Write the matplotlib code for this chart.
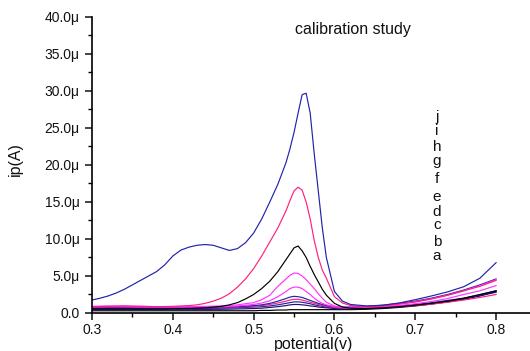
import matplotlib
matplotlib.use("Agg")
import matplotlib.pyplot as plt
from matplotlib.ticker import MultipleLocator, FuncFormatter

plt.rcParams['font.family'] = ['Liberation Sans', 'DejaVu Sans']

# Potential axis (V), shared by all voltammograms
potential = [0.30, 0.31, 0.32, 0.33, 0.34, 0.35, 0.36, 0.37, 0.38, 0.39,
             0.40, 0.41, 0.42, 0.43, 0.44, 0.45, 0.46, 0.47, 0.48, 0.49, 0.50,
             0.51, 0.52, 0.53, 0.54,
             0.545, 0.55, 0.555, 0.56, 0.565, 0.57, 0.575, 0.58, 0.585, 0.59,
             0.60, 0.61, 0.62,
             0.64, 0.66, 0.68, 0.70, 0.72, 0.74, 0.76, 0.78, 0.80]

# Current (µA) for each concentration a..j
curve_a = [0.3] * 21 + [0.35, 0.35, 0.4, 0.4] + [0.45] * 10 + [0.45, 0.45, 0.45] + \
          [0.5, 0.6, 0.75, 0.95, 1.2, 1.5, 1.85, 2.3, 2.9]
curve_b = [0.45] * 15 + [0.5, 0.5, 0.52, 0.55, 0.57, 0.6] + [0.65, 0.75, 0.85, 1.0] + \
          [1.1, 1.15, 1.15, 1.1, 1.05, 0.95, 0.9, 0.8, 0.75, 0.7] + [0.6, 0.55, 0.55] + \
          [0.6, 0.7, 0.85, 1.05, 1.3, 1.6, 1.95, 2.35, 2.8]
curve_c = [0.6] * 16 + [0.65, 0.67, 0.7, 0.75, 0.8] + [0.85, 0.95, 1.1, 1.3] + \
          [1.4, 1.5, 1.5, 1.45, 1.35, 1.25, 1.1, 1.0, 0.9, 0.8] + [0.7, 0.65, 0.65] + \
          [0.7, 0.8, 0.95, 1.15, 1.4, 1.7, 2.0, 2.45, 3.0]
curve_d = [0.75] * 10 + [0.72, 0.7, 0.7, 0.7, 0.7, 0.72, 0.75, 0.77, 0.8, 0.85, 0.9] + \
          [1.0, 1.15, 1.35, 1.6] + \
          [1.75, 1.85, 1.85, 1.75, 1.6, 1.45, 1.3, 1.15, 1.0, 0.9] + [0.75, 0.7, 0.65] + \
          [0.65, 0.75, 0.85, 1.0, 1.2, 1.45, 1.75, 2.1, 2.5]
curve_e = [0.7] * 14 + [0.75, 0.77, 0.8, 0.82, 0.85, 0.92, 1.0] + [1.1, 1.3, 1.6, 1.95] + \
          [2.15, 2.25, 2.2, 2.1, 1.9, 1.7, 1.5, 1.3, 1.15, 1.0] + [0.85, 0.8, 0.8] + \
          [0.9, 1.05, 1.3, 1.6, 2.0, 2.5, 3.1, 3.8, 4.6]
curve_f = [0.8, 0.82, 0.85, 0.85, 0.85, 0.82, 0.8, 0.8, 0.8, 0.8, 0.8, 0.8, 0.8, 0.8,
           0.8, 0.82, 0.85, 0.9, 0.95, 1.05, 1.15] + [1.35, 1.65, 2.2, 2.9] + \
          [3.3, 3.5, 3.5, 3.3, 2.9, 2.5, 2.0, 1.6, 1.3, 1.1] + [0.85, 0.75, 0.7] + \
          [0.75, 0.85, 1.0, 1.25, 1.55, 1.95, 2.5, 3.0, 3.7]
curve_g = [0.9, 0.92, 0.95, 0.95, 0.95, 0.92, 0.9, 0.88, 0.85, 0.85, 0.85, 0.85, 0.85,
           0.87, 0.9, 0.92, 0.95, 1.0, 1.1, 1.25, 1.4] + [1.8, 2.4, 3.6, 4.6] + \
          [5.1, 5.4, 5.35, 5.0, 4.5, 3.9, 3.3, 2.6, 2.0, 1.45] + [0.95, 0.8, 0.75] + \
          [0.8, 0.95, 1.2, 1.5, 1.9, 2.4, 3.0, 3.7, 4.5]
curve_h = [0.55] * 10 + [0.6, 0.6, 0.62, 0.65, 0.7, 0.8, 0.9, 1.1, 1.4, 1.9, 2.5] + \
          [3.3, 4.3, 5.6, 7.2] + \
          [8.0, 8.8, 9.05, 8.4, 7.5, 6.3, 5.2, 4.2, 3.2, 2.4] + [1.3, 0.8, 0.65] + \
          [0.6, 0.7, 0.85, 1.05, 1.3, 1.6, 2.0, 2.5, 3.0]
curve_i = [0.85, 0.88, 0.9, 0.92, 0.95, 0.92, 0.9, 0.88, 0.85, 0.87, 0.9, 0.95, 1.0,
           1.1, 1.3, 1.6, 2.0, 2.6, 3.5, 4.6, 6.0] + [7.7, 9.6, 11.5, 13.8] + \
          [15.2, 16.5, 17.0, 16.6, 15.0, 12.7, 9.8, 7.5, 5.8, 4.7] + [2.2, 1.35, 1.0] + \
          [0.85, 0.95, 1.2, 1.5, 1.9, 2.4, 3.0, 3.6, 4.4]
curve_j = [1.75, 2.0, 2.3, 2.7, 3.2, 3.8, 4.4, 5.0, 5.6, 6.5, 7.7, 8.5, 8.9, 9.15,
           9.25, 9.15, 8.8, 8.45, 8.7, 9.5, 10.8] + [12.7, 15.0, 17.4, 20.3] + \
          [22.2, 24.4, 27.0, 29.5, 29.7, 27.0, 21.5, 16.5, 11.5, 7.5] + [2.9, 1.6, 1.15] + \
          [0.95, 1.05, 1.35, 1.8, 2.3, 2.85, 3.55, 4.7, 6.8]

curve_labels = ['a', 'b', 'c', 'd', 'e', 'f', 'g', 'h', 'i', 'j']
curves = [curve_a, curve_b, curve_c, curve_d, curve_e,
          curve_f, curve_g, curve_h, curve_i, curve_j]

BLUE = '#2222aa'
PINK = '#ff1f7f'
MAGENTA = '#ff33ff'
NAVY = '#22106e'
BLACK = '#000000'
colors = [BLACK, NAVY, BLUE, PINK, BLUE, MAGENTA, MAGENTA, BLACK, PINK, BLUE]

# Vertical stack of curve letters (data coordinates)
label_x = 0.727
label_y = [7.7, 9.6, 11.9, 13.6, 15.7, 18.1, 20.5, 22.4, 24.6, 26.5]

fig = plt.figure(figsize=(5.30, 3.51), dpi=100)
ax = fig.add_axes([0.1736, 0.1083, 0.8264, 0.8433])

for ys, c in zip(curves, colors):
    ax.plot(potential[:len(ys)], ys, color=c, lw=0.85)

for lab, ly in zip(curve_labels, label_y):
    ax.text(label_x, ly, lab, fontsize=11, ha='center', va='center', color='#111111')

ax.text(0.623, 38.3, 'calibration study', fontsize=11.5, ha='center', va='center',
        color='#111111')

ax.set_xlim(0.3, 0.842)
ax.set_ylim(0, 40)
ax.xaxis.set_major_locator(MultipleLocator(0.1))
ax.xaxis.set_minor_locator(MultipleLocator(0.05))
ax.yaxis.set_major_locator(MultipleLocator(5))
ax.yaxis.set_minor_locator(MultipleLocator(2.5))
ax.xaxis.set_major_formatter(FuncFormatter(lambda v, p: f'{v:.1f}'))
ax.yaxis.set_major_formatter(
    FuncFormatter(lambda v, p: '0.0' if abs(v) < 1e-9 else f'{v:.1f}\u03bc'))

for side in ('top', 'right'):
    ax.spines[side].set_visible(False)
for side in ('left', 'bottom'):
    ax.spines[side].set_linewidth(1.2)

ax.tick_params(which='major', direction='out', length=5, width=1.1,
               labelsize=10, colors='#111111')
ax.tick_params(axis='y', which='major', pad=4)
ax.tick_params(axis='x', which='major', pad=2)
ax.tick_params(which='minor', direction='out', length=3, width=1.0)

ax.set_xlabel('potential(v)', fontsize=11.5, color='#111111')
ax.set_ylabel('ip(A)', fontsize=11.5, color='#111111')
ax.xaxis.set_label_coords(0.505, -0.082)
ax.yaxis.set_label_coords(-0.158, 0.52)

fig.savefig('out.png', dpi=100)
